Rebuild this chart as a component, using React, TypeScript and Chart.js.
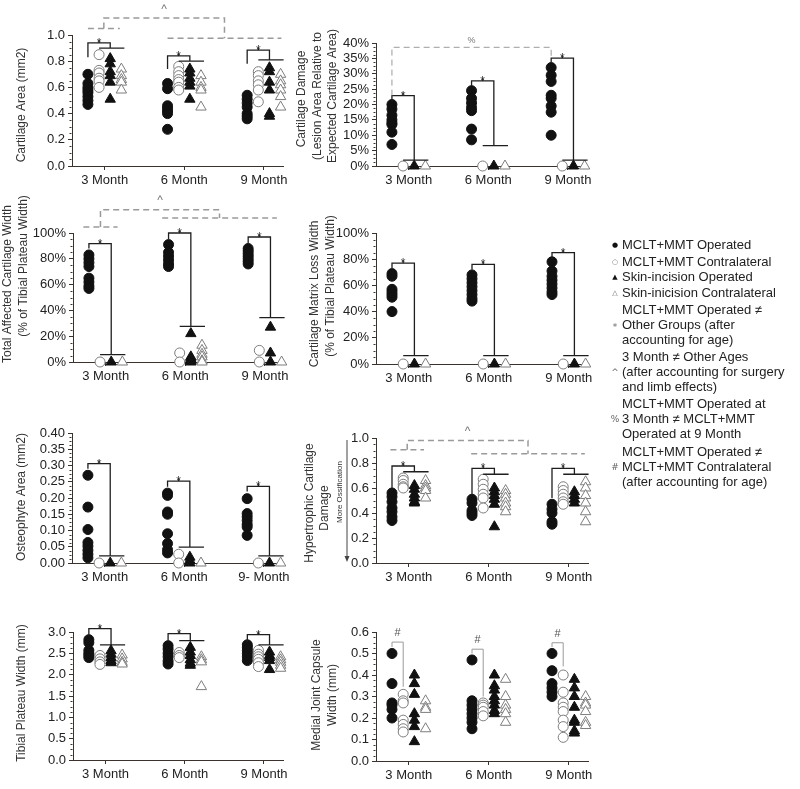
import React, { useEffect, useRef } from "react";
import { Chart, registerables } from "chart.js";
Chart.register(...registerables);

// ---------- categories / groups ----------
const months = ["3 Month", "6 Month", "9 Month"];
const monthsOsteo = ["3 Month", "6 Month", "9- Month"];
const groupNames = [
  "MCLT+MMT Operated",
  "MCLT+MMT Contralateral",
  "Skin-incision Operated",
  "Skin-inicision Contralateral",
];

// ---------- Panel 1: Cartilage Area (mm2) ----------
const caOp = [[0.70, 0.63, 0.60, 0.58, 0.56, 0.53, 0.50, 0.47], [0.63, 0.59, 0.46, 0.44, 0.42, 0.40, 0.28], [0.54, 0.51, 0.48, 0.45, 0.40, 0.38, 0.36]];
const caCon = [[0.85, 0.73, 0.71, 0.67, 0.65, 0.60], [0.76, 0.72, 0.69, 0.66, 0.64, 0.60, 0.58], [0.72, 0.69, 0.65, 0.62, 0.58, 0.49]];
const caSkOp = [[0.82, 0.78, 0.72, 0.69, 0.64, 0.51], [0.74, 0.71, 0.67, 0.64, 0.61, 0.51], [0.75, 0.72, 0.64, 0.58, 0.40, 0.38]];
const caSkCon = [[0.74, 0.69, 0.66, 0.64, 0.58], [0.69, 0.64, 0.60, 0.58, 0.45], [0.70, 0.65, 0.62, 0.58, 0.53, 0.45]];
const caTicks = [0, 0.2, 0.4, 0.6, 0.8, 1.0];

// ---------- Panel 2: Cartilage Damage (%) ----------
const cdOp = [[20, 18.5, 16.5, 15, 14, 13.5, 11, 7], [24.5, 22, 20.5, 19, 18, 12, 8.5], [32, 29.5, 27.5, 23, 22, 19.5, 17.5, 10]];
const cdCon = [[0], [0], [0]];
const cdSkOp = [[0], [0], [0]];
const cdSkCon = [[0], [0], [0]];
const cdTicks = [0, 5, 10, 15, 20, 25, 30, 35, 40];

// ---------- Panel 3: Total Affected Cartilage Width (%) ----------
const twOp = [[83, 80, 77, 74, 65, 62, 59, 57], [91, 85, 82, 79, 76, 74], [88, 86, 84, 82, 80, 78, 76]];
const twCon = [[0], [7, 0], [9, 0]];
const twSkOp = [[0], [22, 4, 3, 2, 1, 0], [27, 7, 0]];
const twSkCon = [[0], [13, 9, 6, 4, 1, 0], [0]];
const pctTicks = [0, 20, 40, 60, 80, 100];

// ---------- Panel 4: Cartilage Matrix Loss Width (%) ----------
const mlOp = [[69, 67, 57, 55, 53, 51, 40], [68, 65, 62, 59, 56, 53, 50, 48], [78, 71, 67, 64, 61, 58, 55, 53]];
const mlCon = [[0], [0], [0]];
const mlSkOp = [[0], [0], [0]];
const mlSkCon = [[0], [0], [0]];

// ---------- Panel 5: Osteophyte Area (mm2) ----------
const osOp = [[0.27, 0.172, 0.103, 0.063, 0.052, 0.039, 0.027, 0.016], [0.215, 0.208, 0.157, 0.15, 0.09, 0.06, 0.041, 0.031], [0.198, 0.152, 0.142, 0.131, 0.119, 0.111, 0.085]];
const osCon = [[0], [0.027, 0], [0]];
const osSkOp = [[0], [0.018, 0.008, 0], [0]];
const osSkCon = [[0], [0], [0]];
const osTicks = [0, 0.05, 0.1, 0.15, 0.2, 0.25, 0.3, 0.35, 0.4];

// ---------- Panel 6: Hypertrophic Cartilage Damage ----------
const hyOp = [[0.56, 0.53, 0.49, 0.44, 0.41, 0.37, 0.34], [0.51, 0.48, 0.42, 0.40, 0.38], [0.47, 0.43, 0.40, 0.33, 0.31]];
const hyCon = [[0.68, 0.66, 0.63, 0.61, 0.60], [0.67, 0.63, 0.59, 0.55, 0.52, 0.44], [0.61, 0.58, 0.55, 0.52, 0.49, 0.47]];
const hySkOp = [[0.62, 0.59, 0.55, 0.52, 0.49, 0.48], [0.60, 0.57, 0.54, 0.51, 0.47, 0.29], [0.57, 0.54, 0.51, 0.48]];
const hySkCon = [[0.66, 0.62, 0.60, 0.58, 0.52], [0.58, 0.55, 0.52, 0.48, 0.45, 0.41], [0.65, 0.60, 0.54, 0.48, 0.41, 0.33]];
const hyTicks = [0, 0.2, 0.4, 0.6, 0.8, 1.0];

// ---------- Panel 7: Tibial Plateau Width (mm) ----------
const tpOp = [[2.82, 2.75, 2.57, 2.50, 2.45, 2.40], [2.68, 2.60, 2.50, 2.42, 2.32, 2.25], [2.70, 2.64, 2.57, 2.50, 2.42, 2.33]];
const tpCon = [[2.45, 2.37, 2.30, 2.24], [2.52, 2.45, 2.40], [2.57, 2.48, 2.42, 2.36, 2.28, 2.19]];
const tpSkOp = [[2.56, 2.48, 2.40, 2.33, 2.28], [2.64, 2.53, 2.45, 2.35, 2.27, 2.22], [2.53, 2.45, 2.40, 2.33, 2.12]];
const tpSkCon = [[2.46, 2.37, 2.29, 2.25], [2.42, 2.35, 2.30, 1.72], [2.42, 2.35, 2.29, 2.22, 2.15]];
const tpTicks = [0, 0.5, 1.0, 1.5, 2.0, 2.5, 3.0];

// ---------- Panel 8: Medial Joint Capsule Width (mm) ----------
const mjOp = [[0.50, 0.36, 0.27, 0.26, 0.24, 0.20], [0.47, 0.28, 0.26, 0.24, 0.22, 0.20, 0.18, 0.15], [0.50, 0.42, 0.36, 0.34, 0.32, 0.30]];
const mjCon = [[0.31, 0.28, 0.27, 0.19, 0.17, 0.15, 0.135], [0.27, 0.26, 0.25, 0.23, 0.21], [0.40, 0.32, 0.27, 0.25, 0.23, 0.19, 0.16, 0.11]];
const mjSkOp = [[0.40, 0.36, 0.31, 0.22, 0.19, 0.16, 0.09], [0.40, 0.35, 0.33, 0.30, 0.28, 0.26, 0.235, 0.22], [0.38, 0.34, 0.30, 0.25, 0.19, 0.18, 0.14, 0.13]];
const mjSkCon = [[0.28, 0.25, 0.24, 0.15], [0.38, 0.30, 0.26, 0.24, 0.22, 0.18], [0.30, 0.27, 0.26, 0.23, 0.18, 0.165]];
const mjTicks = [0, 0.1, 0.2, 0.3, 0.4, 0.5, 0.6];

// ---------- significance brackets (data units): [top, leftEnd, drop] per month ----------
const caStars = [[0.94, 0.83, 0.90], [0.84, 0.74, 0.80], [0.885, 0.78, 0.81]];
const cdStars = [[22.9, 21, 1.9], [27.7, 26, 6.6], [35.1, 33.5, 1.9]];
const twStars = [[91.7, 88, 5.7], [100, 95, 27.6], [96.9, 92, 34.4]];
const mlStars = [[77, 73, 6.4], [76, 72, 6.4], [85, 81, 6.4]];
const osStars = [[0.306, 0.29, 0.022], [0.252, 0.235, 0.049], [0.236, 0.22, 0.022]];
const hyStars = [[0.776, 0.58, 0.73], [0.757, 0.55, 0.71], [0.757, 0.52, 0.71]];
const tpStars = [[3.08, 2.9, 2.70], [2.96, 2.77, 2.80], [2.94, 2.77, 2.70]];
const mjHash = [[0.553, 0.53, 0.345], [0.52, 0.50, 0.30], [0.55, 0.53, 0.44]];

// dashed comparison brackets: [leftFrom, leftTo, leftY, rightFrom, rightTo, rightY, topY, labelY]
const caAge = [0.79, 1.19, 1.05, 1.79, 3.22, 0.975, 1.13, 1.19];
const twAge = [0.72, 1.15, 104.6, 1.71, 3.15, 111.6, 118, 125];
const hyAge = [0.77, 1.19, 0.906, 1.78, 3.2, 0.874, 0.98, 1.05];
const cdPct = [0.79, 0.79, 22.9, 2.79, 2.79, 35.1, 38.6, 40.8];

// ---------- styling / layout ----------
const FONT = '"Liberation Sans", Arial, Helvetica, sans-serif';
const AXIS = "#3b322d";
const OFF = [-0.21, -0.07, 0.07, 0.21];
const X_MIN = 0.59;
const X_MAX = 3.24;
const PAD_R = 12;
const PAD_B = 28;

type Title = { text: string; x: number; y: number; size?: number };
type Panel = {
  col: number;
  area: { l: number; t: number; r: number; b: number };
  yMax: number;
  yTicks: number[];
  fmt: (v: number) => string;
  groups: number[][][];
  months: string[];
  brackets: number[][];
  kind: "star" | "hash";
  dashed?: { spec: number[]; label: string; labelSize: number; width: number };
  titles: Title[];
  arrow?: { x: number; y0: number; y1: number };
};

const f1 = (v: number) => v.toFixed(1);
const f2 = (v: number) => v.toFixed(2);
const pct = (v: number) => Math.round(v) + "%";

const panels: Panel[] = [
  {
    col: 0, area: { l: 72, t: 35, r: 283, b: 166 }, yMax: 1.0, yTicks: caTicks, fmt: f1,
    groups: [caOp, caCon, caSkOp, caSkCon], months, brackets: caStars, kind: "star",
    dashed: { spec: caAge, label: "^", labelSize: 12, width: 1.5 },
    titles: [{ text: "Cartilage Area (mm2)", x: 22, y: 105 }],
  },
  {
    col: 1, area: { l: 376, t: 43, r: 587, b: 166 }, yMax: 40, yTicks: cdTicks, fmt: pct,
    groups: [cdOp, cdCon, cdSkOp, cdSkCon], months, brackets: cdStars, kind: "star",
    dashed: { spec: cdPct, label: "%", labelSize: 9, width: 1 },
    titles: [
      { text: "Cartilage Damage", x: 302, y: 99 },
      { text: "(Lesion Area Relative to", x: 317.5, y: 96 },
      { text: "Expected Cartilage Area)", x: 333, y: 96 },
    ],
  },
  {
    col: 0, area: { l: 73, t: 233, r: 284, b: 362 }, yMax: 100, yTicks: pctTicks, fmt: pct,
    groups: [twOp, twCon, twSkOp, twSkCon], months, brackets: twStars, kind: "star",
    dashed: { spec: twAge, label: "^", labelSize: 12, width: 1.5 },
    titles: [
      { text: "Total Affected Cartilage Width", x: 8, y: 284 },
      { text: "(% of Tibial Plateau Width)", x: 24, y: 266 },
    ],
  },
  {
    col: 1, area: { l: 376, t: 233, r: 588, b: 364 }, yMax: 100, yTicks: pctTicks, fmt: pct,
    groups: [mlOp, mlCon, mlSkOp, mlSkCon], months, brackets: mlStars, kind: "star",
    titles: [
      { text: "Cartilage Matrix Loss Width", x: 315, y: 294 },
      { text: "(% of Tibial Plateau Width)", x: 331, y: 286 },
    ],
  },
  {
    col: 0, area: { l: 72, t: 433, r: 283, b: 563 }, yMax: 0.4, yTicks: osTicks, fmt: f2,
    groups: [osOp, osCon, osSkOp, osSkCon], months: monthsOsteo, brackets: osStars, kind: "star",
    titles: [{ text: "Osteophyte Area (mm2)", x: 22, y: 497 }],
  },
  {
    col: 1, area: { l: 376, t: 438, r: 588, b: 563 }, yMax: 1.0, yTicks: hyTicks, fmt: f1,
    groups: [hyOp, hyCon, hySkOp, hySkCon], months, brackets: hyStars, kind: "star",
    dashed: { spec: hyAge, label: "^", labelSize: 12, width: 1.5 },
    titles: [
      { text: "Hypertrophic Cartilage", x: 310, y: 503 },
      { text: "Damage", x: 325, y: 508 },
      { text: "More Ossification", x: 340, y: 492, size: 8 },
    ],
    arrow: { x: 347, y0: 440, y1: 562 },
  },
  {
    col: 0, area: { l: 73, t: 632, r: 283, b: 760 }, yMax: 3.0, yTicks: tpTicks, fmt: f1,
    groups: [tpOp, tpCon, tpSkOp, tpSkCon], months, brackets: tpStars, kind: "star",
    titles: [{ text: "Tibial Plateau Width (mm)", x: 22, y: 693 }],
  },
  {
    col: 1, area: { l: 376, t: 632, r: 588, b: 761 }, yMax: 0.6, yTicks: mjTicks, fmt: f1,
    groups: [mjOp, mjCon, mjSkOp, mjSkCon], months, brackets: mjHash, kind: "hash",
    titles: [
      { text: "Medial Joint Capsule", x: 317, y: 695 },
      { text: "Width (mm)", x: 333, y: 695 },
    ],
  },
];

function geometry(p: Panel) {
  const canvasLeft = p.col === 0 ? 0 : 290;
  const padT = Math.min(40, p.area.t);
  const canvasTop = p.area.t - padT;
  const w = p.area.r + PAD_R - canvasLeft;
  const h = p.area.b + PAD_B - canvasTop;
  return { canvasLeft, canvasTop, padT, w, h };
}

function makePlugin(p: Panel, g: ReturnType<typeof geometry>) {
  return {
    id: "annot",
    afterDraw(chart: any) {
      const ctx: CanvasRenderingContext2D = chart.ctx;
      const xs = chart.scales.x;
      const ys = chart.scales.y;
      const X = (v: number) => xs.getPixelForValue(v);
      const Y = (v: number) => ys.getPixelForValue(v);
      ctx.save();

      // minor ticks on y axis
      ctx.strokeStyle = AXIS;
      ctx.lineWidth = 1;
      ctx.beginPath();
      const ax = Math.round(chart.chartArea.left) - 0.5;
      for (let i = 0; i < p.yTicks.length - 1; i++) {
        const a = p.yTicks[i];
        const b = p.yTicks[i + 1];
        for (let k = 1; k < 4; k++) {
          const yy = Math.round(Y(a + ((b - a) * k) / 4)) + 0.5;
          ctx.moveTo(ax - 2, yy);
          ctx.lineTo(ax, yy);
        }
      }
      ctx.stroke();

      // significance brackets
      p.brackets.forEach(([top, leftEnd, drop], i) => {
        const m = i + 1;
        const x0 = X(m + OFF[0]);
        const x1 = X(m + OFF[1]);
        const x2 = X(m + OFF[2]);
        const x3 = X(m + OFF[3]);
        ctx.setLineDash([]);
        if (p.kind === "star") {
          ctx.strokeStyle = "#1e1e1e";
          ctx.lineWidth = 1.3;
          ctx.beginPath();
          ctx.moveTo(x0, Y(leftEnd));
          ctx.lineTo(x0, Y(top));
          ctx.lineTo(x2, Y(top));
          ctx.lineTo(x2, Y(drop));
          ctx.moveTo(x1, Y(drop));
          ctx.lineTo(x3 + 3, Y(drop));
          const xm = (x0 + x2) / 2;
          ctx.moveTo(xm, Y(top));
          ctx.lineTo(xm, Y(top) - 3);
          ctx.stroke();
          ctx.fillStyle = "#333";
          ctx.font = `12px ${FONT}`;
          ctx.textAlign = "center";
          ctx.textBaseline = "alphabetic";
          ctx.fillText("*", xm, Y(top) + 4);
        } else {
          ctx.strokeStyle = "#9a9a9a";
          ctx.lineWidth = 1;
          ctx.beginPath();
          ctx.moveTo(x0, Y(leftEnd));
          ctx.lineTo(x0, Y(top));
          ctx.lineTo(x1, Y(top));
          ctx.lineTo(x1, Y(drop));
          ctx.stroke();
          ctx.fillStyle = "#555";
          ctx.font = `11px ${FONT}`;
          ctx.textAlign = "center";
          ctx.textBaseline = "middle";
          ctx.fillText("#", (x0 + x1) / 2, Y(top) - 9);
        }
      });

      // dashed comparison bracket
      if (p.dashed) {
        const [l0, l1, ly, r0, r1, ry, ty, lab] = p.dashed.spec;
        const lm = (l0 + l1) / 2;
        const rm = (r0 + r1) / 2;
        ctx.strokeStyle = "#9a9a9a";
        ctx.lineWidth = p.dashed.width;
        ctx.setLineDash([6, 4]);
        ctx.beginPath();
        if (l1 > l0) {
          ctx.moveTo(X(l0), Y(ly));
          ctx.lineTo(X(l1), Y(ly));
        }
        ctx.moveTo(X(lm), Y(ly));
        ctx.lineTo(X(lm), Y(ty));
        ctx.lineTo(X(rm), Y(ty));
        ctx.lineTo(X(rm), Y(ry));
        if (r1 > r0) {
          ctx.moveTo(X(r0), Y(ry));
          ctx.lineTo(X(r1), Y(ry));
        }
        ctx.stroke();
        ctx.setLineDash([]);
        ctx.fillStyle = "#777";
        ctx.font = `${p.dashed.labelSize}px ${FONT}`;
        ctx.textAlign = "center";
        ctx.textBaseline = "middle";
        ctx.fillText(p.dashed.label, (X(lm) + X(rm)) / 2, Y(lab));
      }

      // y-axis titles
      p.titles.forEach((t) => {
        ctx.save();
        ctx.translate(t.x - g.canvasLeft, t.y - g.canvasTop);
        ctx.rotate(-Math.PI / 2);
        ctx.fillStyle = "#333";
        ctx.font = `${t.size ?? 12}px ${FONT}`;
        ctx.textAlign = "center";
        ctx.textBaseline = "middle";
        ctx.fillText(t.text, 0, 0);
        ctx.restore();
      });

      if (p.arrow) {
        const x = p.arrow.x - g.canvasLeft;
        const y0 = p.arrow.y0 - g.canvasTop;
        const y1 = p.arrow.y1 - g.canvasTop;
        ctx.strokeStyle = "#444";
        ctx.lineWidth = 1;
        ctx.beginPath();
        ctx.moveTo(x, y0);
        ctx.lineTo(x, y1 - 4);
        ctx.stroke();
        ctx.fillStyle = "#444";
        ctx.beginPath();
        ctx.moveTo(x - 2.5, y1 - 6);
        ctx.lineTo(x + 2.5, y1 - 6);
        ctx.lineTo(x, y1);
        ctx.closePath();
        ctx.fill();
      }
      ctx.restore();
    },
  };
}

function PanelChart({ p }: { p: Panel }) {
  const ref = useRef<HTMLCanvasElement>(null);
  const g = geometry(p);
  useEffect(() => {
    const datasets = p.groups.map((grp, gi) => ({
      label: groupNames[gi],
      data: grp.flatMap((vals, mi) => vals.map((v) => ({ x: mi + 1 + OFF[gi], y: v }))),
      pointStyle: gi < 2 ? "circle" : "triangle",
      pointRadius: gi < 2 ? 5 : 6,
      pointBackgroundColor: gi % 2 === 0 ? "#111" : "#fff",
      pointBorderColor: gi % 2 === 0 ? "#111" : "#7d7d7d",
      pointBorderWidth: 1,
      showLine: false,
      clip: false,
    }));
    const tickFont = { size: 13, family: FONT };
    const chart = new Chart(ref.current as HTMLCanvasElement, {
      type: "scatter",
      data: { datasets },
      options: {
        animation: false,
        responsive: false,
        events: [],
        layout: { padding: { left: 0, top: g.padT, right: PAD_R, bottom: 0 } },
        plugins: { legend: { display: false }, tooltip: { enabled: false } },
        scales: {
          x: {
            type: "linear",
            min: X_MIN,
            max: X_MAX,
            afterBuildTicks: (s: any) => {
              s.ticks = [1, 2, 3].map((v) => ({ value: v }));
            },
            afterFit: (s: any) => {
              s.height = PAD_B;
            },
            ticks: {
              callback: (v: any) => p.months[Math.round(Number(v)) - 1],
              font: tickFont,
              color: "#222",
              padding: 3,
              maxRotation: 0,
              autoSkip: false,
            },
            grid: { display: true, drawOnChartArea: false, drawTicks: true, tickLength: 4, color: AXIS, tickColor: AXIS },
            border: { display: true, color: AXIS, width: 1 },
          },
          y: {
            type: "linear",
            min: 0,
            max: p.yMax,
            afterBuildTicks: (s: any) => {
              s.ticks = p.yTicks.map((v) => ({ value: v }));
            },
            afterFit: (s: any) => {
              s.width = p.area.l - g.canvasLeft;
            },
            ticks: {
              callback: (v: any) => p.fmt(Number(v)),
              font: tickFont,
              color: "#222",
              padding: 3,
              autoSkip: false,
            },
            grid: { display: true, drawOnChartArea: false, drawTicks: true, tickLength: 4, color: AXIS, tickColor: AXIS },
            border: { display: true, color: AXIS, width: 1 },
          },
        },
      } as any,
      plugins: [makePlugin(p, g)],
    });
    return () => chart.destroy();
  }, []);
  return (
    <canvas
      ref={ref}
      width={g.w}
      height={g.h}
      style={{ position: "absolute", left: g.canvasLeft, top: g.canvasTop, width: g.w, height: g.h }}
    />
  );
}

// ---------- legend ----------
const seriesMarks = ["●", "○", "▲", "△"];
const seriesY = [245, 261.5, 277, 292.5];
const notes = [
  { sym: "*", lines: ["MCLT+MMT Operated ≠", "Other Groups (after", "accounting for age)"], y: 309.5 },
  { sym: "^", lines: ["3 Month ≠ Other Ages", "(after accounting for surgery", "and limb effects)"], y: 356.5 },
  { sym: "%", lines: ["MCLT+MMT Operated at", "3 Month ≠ MCLT+MMT", "Operated at 9 Month"], y: 404 },
  { sym: "#", lines: ["MCLT+MMT Operated ≠", "MCLT+MMT Contralateral", "(after accounting for age)"], y: 451.5 },
];

function Legend() {
  const textStyle = (y: number): React.CSSProperties => ({
    position: "absolute",
    left: 622,
    top: y - 8,
    height: 16,
    lineHeight: "16px",
    fontSize: 13,
    fontFamily: FONT,
    color: "#222",
    whiteSpace: "nowrap",
  });
  const markStyle = (y: number, size: number, color: string): React.CSSProperties => ({
    position: "absolute",
    left: 609,
    width: 12,
    textAlign: "center",
    top: y - 8,
    height: 16,
    lineHeight: "16px",
    fontSize: size,
    fontFamily: '"DejaVu Sans", sans-serif',
    color,
  });
  return (
    <>
      {groupNames.map((n, i) => (
        <React.Fragment key={n}>
          <div style={markStyle(seriesY[i], 7, i % 2 === 0 ? "#111" : "#666")}>{seriesMarks[i]}</div>
          <div style={textStyle(seriesY[i])}>{n}</div>
        </React.Fragment>
      ))}
      {notes.map((nt, i) => (
        <React.Fragment key={i}>
          <div style={{ ...markStyle(nt.y + 15, 9, "#666"), top: nt.y + 15 - 8 + (nt.sym === "*" ? 2 : 0) }}>{nt.sym}</div>
          {nt.lines.map((ln, k) => (
            <div key={k} style={textStyle(nt.y + k * 15)}>
              {ln}
            </div>
          ))}
        </React.Fragment>
      ))}
    </>
  );
}

export default function App() {
  return (
    <div
      style={{
        position: "absolute",
        left: 0,
        top: 0,
        width: 800,
        height: 789,
        overflow: "hidden",
        background: "#fff",
      }}
    >
      {panels.map((p, i) => (
        <PanelChart key={i} p={p} />
      ))}
      <Legend />
    </div>
  );
}
